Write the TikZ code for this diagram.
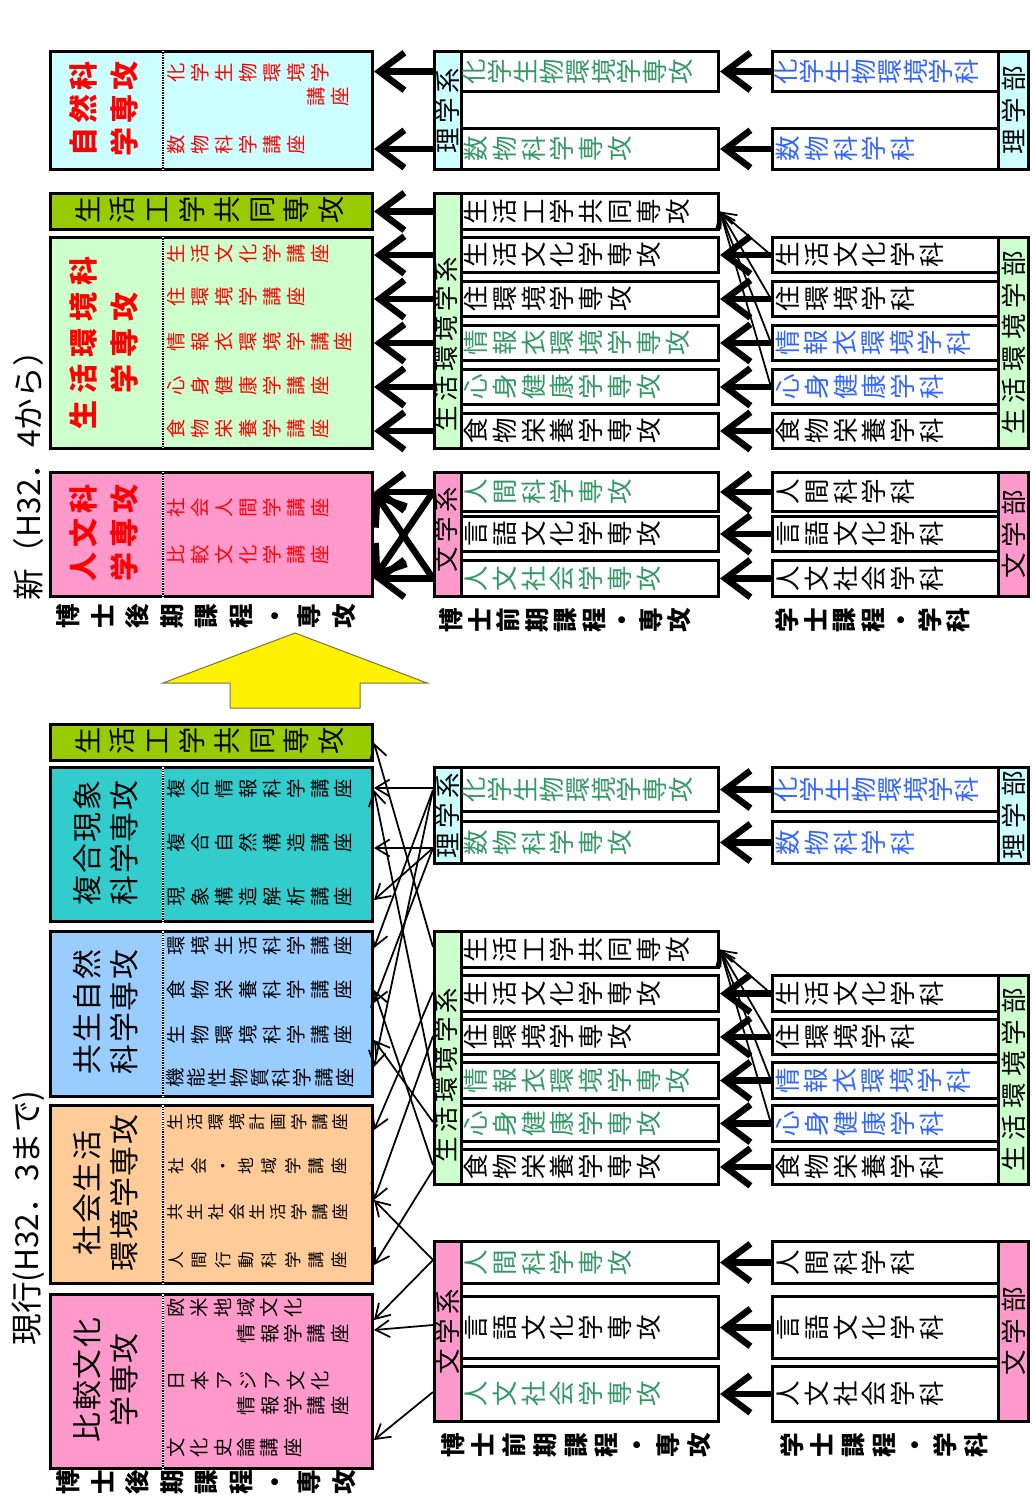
\documentclass[tikz,border=0pt]{standalone}
\usepackage{fontspec}
\setmainfont{Noto Sans CJK JP}
\usepackage{graphicx}
\usetikzlibrary{arrows.meta}

\definecolor{cyanL}{HTML}{CCFFFF}
\definecolor{kgreen}{HTML}{99CC00}
\definecolor{greenL}{HTML}{CCFFCC}
\definecolor{pinkL}{HTML}{FF99CC}
\definecolor{tealL}{HTML}{33CCCC}
\definecolor{blueL}{HTML}{99CCFF}
\definecolor{peachL}{HTML}{FFCC99}
\definecolor{txtG}{HTML}{339966}
\definecolor{txtB}{HTML}{3366FF}

\newcommand\fs[2]{\fontsize{#1}{#2}\selectfont}
\makeatletter
% characters turned a quarter left, set in a row
\newcommand\vtxt[2]{\def\vt@w{#1}\vt@a#2\@nil}
\def\vt@a#1{\ifx\@nil#1\else\makebox[\vt@w]{\rotatebox[origin=c]{90}{\raisebox{0pt}[.88em][.12em]{\makebox[1em]{#1}}}}\expandafter\vt@a\fi}
% characters upright, fixed pitch
\newcommand\htxt[2]{\def\vt@w{#1}\ht@a#2\@nil}
\def\ht@a#1{\ifx\@nil#1\else\makebox[\vt@w]{#1}\expandafter\ht@a\fi}
\makeatother

\begin{document}
\begin{tikzpicture}[x=0.02cm,y=-0.02cm,
  box/.style={draw,line width=0.06cm,inner sep=0pt,anchor=north west},
  wh/.style 2 args={minimum width=#1*0.02cm,minimum height=#2*0.02cm},
  thk/.style={line width=0.13cm,-{Straight Barb[length=0.5cm,width=0.75cm]}},
  thn/.style={line width=0.035cm,-{Straight Barb[length=0.28cm,width=0.34cm]}},
  ttl/.style={rotate=90,align=center,inner sep=0pt,font=\fs{16.5pt}{23pt}\bfseries},
  ttlb/.style={rotate=90,align=center,inner sep=0pt,font=\fs{17pt}{21pt}},
  lec/.style={inner sep=0pt,anchor=west,font=\fs{11pt}{13pt}},
  lbl/.style={inner sep=0pt,anchor=west,font=\fs{14.5pt}{17pt}},
  side/.style={rotate=90,inner sep=0pt,font=\fs{14.5pt}{17pt}},
  foot/.style={inner sep=0pt,anchor=west,font=\fs{14pt}{17pt}\bfseries},
  divw/.style={white,line width=0.05cm},
  divl/.style={line width=0.05cm,dash pattern=on 0.025cm off 0.025cm}]

\useasboundingbox[fill=white] (0,0) rectangle (1033,1506);

% ================= new (top) =================
\node[rotate=90,inner sep=0pt,font=\fs{18pt}{20pt}] (nTitle) at (28,468) {新（H32．4から）};

% doctoral (late) courses
\node[box,wh={322}{118},fill=cyanL] (nK) at (49,50) {};
\node[box,wh={322}{36},fill=kgreen] (nKK) at (49,192) {};
\node[box,wh={322}{211},fill=greenL] (nS) at (49,236) {};
\node[box,wh={322}{124},fill=pinkL] (nJ) at (49,471) {};
\foreach \n in {nK,nS,nJ}{
  \draw[divw] ([xshift=2.28cm]\n.north west) -- ([xshift=2.28cm]\n.south west);
  \draw[divl] ([xshift=2.28cm]\n.north west) -- ([xshift=2.28cm]\n.south west);
}
\node[ttl,text=red] at (104,109) {\htxt{19pt}{自然科}\\\htxt{19pt}{学専攻}};
\node[ttl,text=red] at (104,343) {\htxt{20.5pt}{生活環境科}\\\htxt{20.5pt}{学専攻}};
\node[ttl,text=red] at (104,533) {\htxt{19.5pt}{人文科}\\\htxt{19.5pt}{学専攻}};
\node[lbl,font=\fs{15.5pt}{18pt}] at (70,210) {\vtxt{19.8pt}{生活工学共同専攻}};

\node[lec,text=red] at (164,73) {\vtxt{13.6pt}{化学生物環境学}};
\node[lec,text=red,anchor=east] at (352,97) {\vtxt{13.6pt}{講座}};
\node[lec,text=red] at (164,145) {\vtxt{13.6pt}{数物科学講座}};
\node[lec,text=red] at (164,254) {\vtxt{13.6pt}{生活文化学講座}};
\node[lec,text=red] at (164,297) {\vtxt{13.6pt}{住環境学講座}};
\node[lec,text=red] at (164,342) {\vtxt{13.6pt}{情報衣環境学講座}};
\node[lec,text=red] at (164,386) {\vtxt{13.6pt}{心身健康学講座}};
\node[lec,text=red] at (164,429) {\vtxt{13.6pt}{食物栄養学講座}};
\node[lec,text=red] at (164,508) {\vtxt{13.6pt}{社会人間学講座}};
\node[lec,text=red] at (164,555) {\vtxt{13.6pt}{比較文化学講座}};

% doctoral (early) courses
\node[box,wh={27}{118},fill=cyanL] (nRs) at (433,50) {};
\node[side] at (nRs) {\htxt{17pt}{理学系}};
\node[box,wh={257}{40}] (nR1) at (460,50) {};
\node[box,wh={257}{41}] (nR2) at (460,127) {};
\node[lbl,text=txtG] at ([xshift=0.02cm]nR1.west) {\vtxt{14.7pt}{化学生物環境学専攻}};
\node[lbl,text=txtG] at ([xshift=0.02cm]nR2.west) {\vtxt{16.4pt}{数物科学専攻}};

\node[box,wh={27}{255},fill=greenL] (nSs) at (433,192) {};
\node[side] at (446,344) {\htxt{17pt}{生活環境学系}};
\node[box,wh={257}{36}] (nS0) at (460,192) {};
\node[box,wh={257}{35}] (nS1) at (460,236) {};
\node[box,wh={257}{35}] (nS2) at (460,280) {};
\node[box,wh={257}{35}] (nS3) at (460,324) {};
\node[box,wh={257}{35}] (nS4) at (460,368) {};
\node[box,wh={257}{35}] (nS5) at (460,412) {};
\node[lbl] at ([xshift=0.02cm]nS0.west) {\vtxt{16.4pt}{生活工学共同専攻}};
\node[lbl] at ([xshift=0.02cm]nS1.west) {\vtxt{16.4pt}{生活文化学専攻}};
\node[lbl] at ([xshift=0.02cm]nS2.west) {\vtxt{16.4pt}{住環境学専攻}};
\node[lbl,text=txtG] at ([xshift=0.02cm]nS3.west) {\vtxt{16.4pt}{情報衣環境学専攻}};
\node[lbl,text=txtG] at ([xshift=0.02cm]nS4.west) {\vtxt{16.4pt}{心身健康学専攻}};
\node[lbl] at ([xshift=0.02cm]nS5.west) {\vtxt{16.4pt}{食物栄養学専攻}};

\node[box,wh={27}{124},fill=pinkL] (nBs) at (433,471) {};
\node[side] at (446,530) {\htxt{17pt}{文学系}};
\node[box,wh={257}{39}] (nB1) at (460,471) {};
\node[box,wh={257}{35}] (nB2) at (460,515) {};
\node[box,wh={257}{36}] (nB3) at (460,559) {};
\node[lbl,text=txtG] at ([xshift=0.02cm]nB1.west) {\vtxt{16.4pt}{人間科学専攻}};
\node[lbl] at ([xshift=0.02cm]nB2.west) {\vtxt{16.4pt}{言語文化学専攻}};
\node[lbl,text=txtG] at ([xshift=0.02cm]nB3.west) {\vtxt{16.4pt}{人文社会学専攻}};

% bachelor courses
\node[box,wh={30}{118},fill=cyanL] (nRf) at (997,50) {};
\node[side] at (nRf) {\htxt{18pt}{理学部}};
\node[box,wh={226}{40}] (nRg1) at (771,50) {};
\node[box,wh={226}{41}] (nRg2) at (771,127) {};
\node[lbl,text=txtB] at ([xshift=0.04cm]nRg1.west) {\vtxt{14.7pt}{化学生物環境学科}};
\node[lbl,text=txtB] at ([xshift=0.04cm]nRg2.west) {\vtxt{16.4pt}{数物科学科}};

\node[box,wh={30}{211},fill=greenL] (nSf) at (997,236) {};
\node[side] at (nSf) {\htxt{18pt}{生活環境学部}};
\node[box,wh={226}{35}] (nSg1) at (771,236) {};
\node[box,wh={226}{35}] (nSg2) at (771,280) {};
\node[box,wh={226}{35}] (nSg3) at (771,324) {};
\node[box,wh={226}{35}] (nSg4) at (771,368) {};
\node[box,wh={226}{35}] (nSg5) at (771,412) {};
\node[lbl] at ([xshift=0.04cm]nSg1.west) {\vtxt{16.4pt}{生活文化学科}};
\node[lbl] at ([xshift=0.04cm]nSg2.west) {\vtxt{16.4pt}{住環境学科}};
\node[lbl,text=txtB] at ([xshift=0.04cm]nSg3.west) {\vtxt{16.2pt}{情報衣環境学科}};
\node[lbl,text=txtB] at ([xshift=0.04cm]nSg4.west) {\vtxt{16.4pt}{心身健康学科}};
\node[lbl] at ([xshift=0.04cm]nSg5.west) {\vtxt{16.4pt}{食物栄養学科}};

\node[box,wh={30}{124},fill=pinkL] (nBf) at (997,471) {};
\node[side] at (nBf) {\htxt{18pt}{文学部}};
\node[box,wh={226}{39}] (nBg1) at (771,471) {};
\node[box,wh={226}{35}] (nBg2) at (771,515) {};
\node[box,wh={226}{36}] (nBg3) at (771,559) {};
\node[lbl] at ([xshift=0.04cm]nBg1.west) {\vtxt{16.4pt}{人間科学科}};
\node[lbl] at ([xshift=0.04cm]nBg2.west) {\vtxt{16.4pt}{言語文化学科}};
\node[lbl] at ([xshift=0.04cm]nBg3.west) {\vtxt{16.4pt}{人文社会学科}};

\node[foot] at (51,616) {\vtxt{19.6pt}{博士後期課程・専攻}};
\node[foot] at (437,620) {\vtxt{16.2pt}{博士前期課程・専攻}};
\node[foot] at (773,620) {\vtxt{16.2pt}{学士課程・学科}};

% arrows
\foreach \a/\b in {nRg1/nR1,nRg2/nR2,nSg1/nS1,nSg2/nS2,nSg3/nS3,nSg4/nS4,nSg5/nS5,nBg1/nB1,nBg2/nB2,nBg3/nB3}
  \draw[thk] (\a) -- (\b);
\foreach \b in {nR1,nR2}
  \draw[thk] (nRs.west |- \b.west) -- (nK.east |- \b.west);
\draw[thk] (nSs.west |- nS0.west) -- (nKK.east |- nS0.west);
\foreach \b in {nS1,nS2,nS3,nS4,nS5}
  \draw[thk] (nSs.west |- \b.west) -- (nS.east |- \b.west);
\draw[thk] (nBs.west |- nB1.west) -- (nJ.east |- nB1.west);
\draw[thk] (nBs.west |- nB3.west) -- (nJ.east |- nB3.west);
\draw[thk] (nBs.west |- nB3.west) -- (nJ.east |- nB1.west);
\draw[thk] (nBs.west |- nB1.west) -- (nJ.east |- nB3.west);
\foreach \a in {nSg1,nSg2,nSg3,nSg4}
  \draw[thn] (\a.west) -- (nS0.east);

% big arrow
\draw[fill=yellow,draw=black!60!yellow,line width=0.02cm] (163,683) -- (295,633) -- (427,683) -- (360,683) -- (360,708) -- (230,708) -- (230,683) -- cycle;

% ================= current (bottom) =================
\node[rotate=90,inner sep=0pt,font=\fs{18pt}{20pt}] (oTitle) at (28,1218) {現行(H32．3まで)};

\node[box,wh={322}{36},fill=kgreen] (oKK) at (49,723) {};
\node[box,wh={322}{154},fill=tealL] (oF) at (49,766) {};
\node[box,wh={322}{165},fill=blueL] (oE) at (49,930) {};
\node[box,wh={322}{178},fill=peachL] (oL) at (49,1104) {};
\node[box,wh={322}{174},fill=pinkL] (oH) at (49,1293) {};
\foreach \n in {oF,oE,oL,oH}{
  \draw[divw] ([xshift=2.28cm]\n.north west) -- ([xshift=2.28cm]\n.south west);
  \draw[divl] ([xshift=2.28cm]\n.north west) -- ([xshift=2.28cm]\n.south west);
}
\node[lbl,font=\fs{15.5pt}{18pt}] at (70,741) {\vtxt{19.8pt}{生活工学共同専攻}};
\node[ttlb] at (106,843) {\htxt{18pt}{複合現象}\\\htxt{18pt}{科学専攻}};
\node[ttlb] at (106,1012) {\htxt{18pt}{共生自然}\\\htxt{18pt}{科学専攻}};
\node[ttlb] at (106,1193) {\htxt{18pt}{社会生活}\\\htxt{18pt}{環境学専攻}};
\node[ttlb] at (106,1380) {\htxt{18pt}{比較文化}\\\htxt{18pt}{学専攻}};

\node[lec] at (164,789) {\vtxt{13.6pt}{複合情報科学講座}};
\node[lec] at (164,843) {\vtxt{13.6pt}{複合自然構造講座}};
\node[lec] at (164,897) {\vtxt{13.6pt}{現象構造解析講座}};
\node[lec] at (164,946) {\vtxt{13.6pt}{環境生活科学講座}};
\node[lec] at (164,990) {\vtxt{13.6pt}{食物栄養科学講座}};
\node[lec] at (164,1035) {\vtxt{13.6pt}{生物環境科学講座}};
\node[lec] at (164,1078) {\vtxt{12.1pt}{機能性物質科学講座}};
\node[lec,font=\fs{9.5pt}{11pt}] at (164,1122) {\vtxt{11.8pt}{生活環境計画学講座}};
\node[lec,font=\fs{9.5pt}{11pt}] at (164,1166) {\vtxt{13.3pt}{社会・地域学講座}};
\node[lec,font=\fs{9.5pt}{11pt}] at (164,1212) {\vtxt{11.8pt}{共生社会生活学講座}};
\node[lec,font=\fs{9.5pt}{11pt}] at (164,1260) {\vtxt{13.3pt}{人間行動科学講座}};
\node[lec] at (164,1308) {\vtxt{13.3pt}{欧米地域文化}};
\node[lec,anchor=east] at (352,1334) {\vtxt{13.3pt}{情報学講座}};
\node[lec] at (164,1381) {\vtxt{13.6pt}{日本アジア文化}};
\node[lec,anchor=east] at (352,1406) {\vtxt{13.3pt}{情報学講座}};
\node[lec] at (164,1448) {\vtxt{13.3pt}{文化史論講座}};

\node[box,wh={27}{96},fill=cyanL] (oRs) at (433,766) {};
\node[side] at (oRs) {\htxt{17pt}{理学系}};
\node[box,wh={257}{44}] (oR1) at (460,766) {};
\node[box,wh={257}{42}] (oR2) at (460,820) {};
\node[lbl,text=txtG] at ([xshift=0.02cm]oR1.west) {\vtxt{14.7pt}{化学生物環境学専攻}};
\node[lbl,text=txtG] at ([xshift=0.02cm]oR2.west) {\vtxt{16.4pt}{数物科学専攻}};

\node[box,wh={27}{253},fill=greenL] (oSs) at (433,930) {};
\node[side] at (446,1075) {\htxt{17pt}{生活環境学系}};
\node[box,wh={257}{36}] (oS0) at (460,930) {};
\node[box,wh={257}{36}] (oS1) at (460,974) {};
\node[box,wh={257}{35}] (oS2) at (460,1018) {};
\node[box,wh={257}{36}] (oS3) at (460,1061) {};
\node[box,wh={257}{36}] (oS4) at (460,1104) {};
\node[box,wh={257}{35}] (oS5) at (460,1148) {};
\node[lbl] at ([xshift=0.02cm]oS0.west) {\vtxt{16.4pt}{生活工学共同専攻}};
\node[lbl] at ([xshift=0.02cm]oS1.west) {\vtxt{16.4pt}{生活文化学専攻}};
\node[lbl] at ([xshift=0.02cm]oS2.west) {\vtxt{16.4pt}{住環境学専攻}};
\node[lbl,text=txtG] at ([xshift=0.02cm]oS3.west) {\vtxt{16.4pt}{情報衣環境学専攻}};
\node[lbl,text=txtG] at ([xshift=0.02cm]oS4.west) {\vtxt{16.4pt}{心身健康学専攻}};
\node[lbl] at ([xshift=0.02cm]oS5.west) {\vtxt{16.4pt}{食物栄養学専攻}};

\node[box,wh={27}{180},fill=pinkL] (oBs) at (433,1240) {};
\node[side] at (oBs) {\htxt{17pt}{文学系}};
\node[box,wh={257}{42}] (oB1) at (460,1240) {};
\node[box,wh={257}{62}] (oB2) at (460,1295) {};
\node[box,wh={257}{55}] (oB3) at (460,1365) {};
\node[lbl,text=txtG] at ([xshift=0.02cm]oB1.west) {\vtxt{16.4pt}{人間科学専攻}};
\node[lbl] at ([xshift=0.02cm]oB2.west) {\vtxt{16.4pt}{言語文化学専攻}};
\node[lbl,text=txtG] at ([xshift=0.02cm]oB3.west) {\vtxt{16.4pt}{人文社会学専攻}};

\node[box,wh={30}{96},fill=cyanL] (oRf) at (997,766) {};
\node[side] at (oRf) {\htxt{18pt}{理学部}};
\node[box,wh={226}{44}] (oRg1) at (771,766) {};
\node[box,wh={226}{42}] (oRg2) at (771,820) {};
\node[lbl,text=txtB] at ([xshift=0.04cm]oRg1.west) {\vtxt{14.7pt}{化学生物環境学科}};
\node[lbl,text=txtB] at ([xshift=0.04cm]oRg2.west) {\vtxt{16.4pt}{数物科学科}};

\node[box,wh={30}{209},fill=greenL] (oSf) at (997,974) {};
\node[side] at (oSf) {\htxt{18pt}{生活環境学部}};
\node[box,wh={226}{36}] (oSg1) at (771,974) {};
\node[box,wh={226}{35}] (oSg2) at (771,1018) {};
\node[box,wh={226}{36}] (oSg3) at (771,1061) {};
\node[box,wh={226}{36}] (oSg4) at (771,1104) {};
\node[box,wh={226}{35}] (oSg5) at (771,1148) {};
\node[lbl] at ([xshift=0.04cm]oSg1.west) {\vtxt{16.4pt}{生活文化学科}};
\node[lbl] at ([xshift=0.04cm]oSg2.west) {\vtxt{16.4pt}{住環境学科}};
\node[lbl,text=txtB] at ([xshift=0.04cm]oSg3.west) {\vtxt{16.2pt}{情報衣環境学科}};
\node[lbl,text=txtB] at ([xshift=0.04cm]oSg4.west) {\vtxt{16.4pt}{心身健康学科}};
\node[lbl] at ([xshift=0.04cm]oSg5.west) {\vtxt{16.4pt}{食物栄養学科}};

\node[box,wh={30}{180},fill=pinkL] (oBf) at (997,1240) {};
\node[side] at (oBf) {\htxt{18pt}{文学部}};
\node[box,wh={226}{42}] (oBg1) at (771,1240) {};
\node[box,wh={226}{62}] (oBg2) at (771,1295) {};
\node[box,wh={226}{55}] (oBg3) at (771,1365) {};
\node[lbl] at ([xshift=0.04cm]oBg1.west) {\vtxt{16.4pt}{人間科学科}};
\node[lbl] at ([xshift=0.04cm]oBg2.west) {\vtxt{16.4pt}{言語文化学科}};
\node[lbl] at ([xshift=0.04cm]oBg3.west) {\vtxt{16.4pt}{人文社会学科}};

\node[foot] at (51,1482) {\vtxt{19.6pt}{博士後期課程・専攻}};
\node[foot] at (437,1445) {\vtxt{17.5pt}{博士前期課程・専攻}};
\node[foot] at (776,1445) {\vtxt{17.5pt}{学士課程・学科}};

% arrows
\foreach \a/\b in {oRg1/oR1,oRg2/oR2,oSg1/oS1,oSg2/oS2,oSg3/oS3,oSg4/oS4,oSg5/oS5,oBg1/oB1,oBg2/oB2,oBg3/oB3}
  \draw[thk] (\a) -- (\b);
\foreach \a in {oSg1,oSg2,oSg3,oSg4}
  \draw[thn] (\a.west) -- (oS0.east);
% thin web from the early courses to the late ones
\foreach \s/\p/\q in {oRs/788/788,oRs/848/848,oRs/848/900,oRs/790/948,oRs/848/1003,oRs/790/1067,
  oSs/947/743,oSs/1079/790,oSs/1165/990,oSs/1122/1040,oSs/992/1130,oSs/1036/1200,oSs/1170/1265,
  oBs/1260/1200,oBs/1260/1320,oBs/1325/1330,oBs/1392/1440}
  \draw[thn] (\s.west |- 0,\p) -- (oF.east |- 0,\q);

\end{tikzpicture}
\end{document}
